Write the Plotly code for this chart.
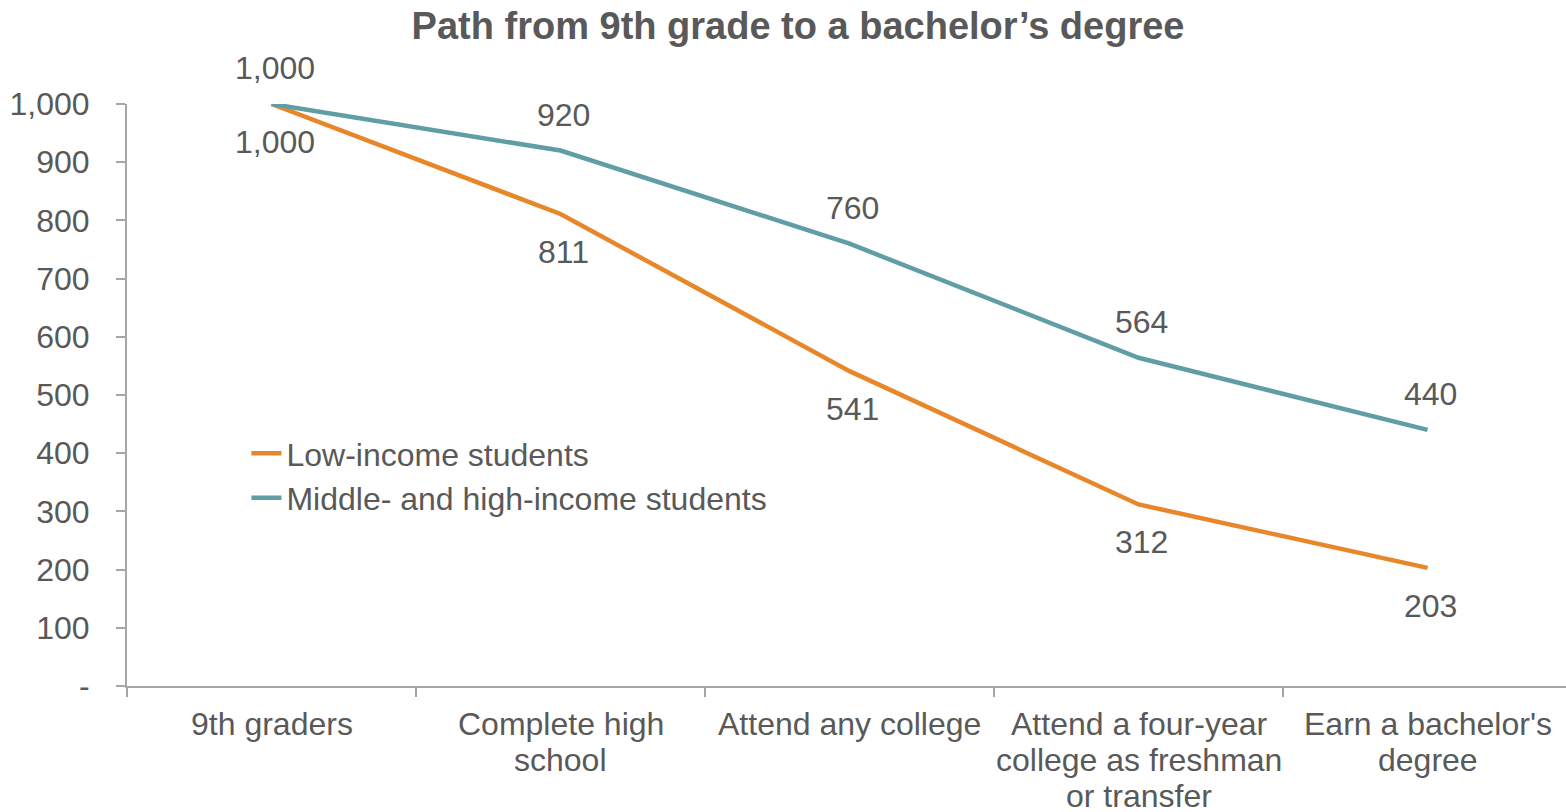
import plotly.graph_objects as go

categories = ["9th graders", "Complete high<br>school", "Attend any college",
              "Attend a four-year<br>college as freshman<br>or transfer",
              "Earn a bachelor's<br>degree"]
low_income = [1000, 811, 541, 312, 203]
mid_high_income = [1000, 920, 760, 564, 440]
y_ticks = [0, 100, 200, 300, 400, 500, 600, 700, 800, 900, 1000]
y_tick_text = ["-", "100", "200", "300", "400", "500", "600", "700", "800", "900", "1,000"]

ORANGE = "#E8872A"
TEAL = "#5F9EA5"
TXT = "#595959"
AX = "#A6A6A6"
FONT = "Liberation Sans, Arial, sans-serif"
FS = 32

x_idx = list(range(len(categories)))

fig = go.Figure()
fig.add_trace(go.Scatter(x=x_idx, y=low_income, mode="lines", name="Low-income students",
                         line=dict(color=ORANGE, width=4.5)))
fig.add_trace(go.Scatter(x=x_idx, y=mid_high_income, mode="lines", name="Middle- and high-income students",
                         line=dict(color=TEAL, width=4.5)))

def fmt(v):
    return f"{v:,}"

for i, v in enumerate(mid_high_income):
    fig.add_annotation(x=x_idx[i], y=v, text=fmt(v), showarrow=False, yshift=36, xshift=3,
                       font=dict(size=FS, color=TXT, family=FONT))
for i, v in enumerate(low_income):
    fig.add_annotation(x=x_idx[i], y=v, text=fmt(v), showarrow=False, yshift=-38, xshift=3,
                       font=dict(size=FS, color=TXT, family=FONT))

# category labels (one annotation per line for tighter line spacing)
for i, cat in enumerate(categories):
    for k, line in enumerate(cat.split("<br>")):
        fig.add_annotation(x=x_idx[i], xref="x", y=0, yref="paper", yanchor="middle",
                           text=line, showarrow=False, yshift=-(38 + 36 * k),
                           font=dict(size=FS, color=TXT, family=FONT))

fig.update_layout(
    width=1566, height=812,
    margin=dict(l=127, r=0, t=104, b=126, autoexpand=False),
    paper_bgcolor="white", plot_bgcolor="white",
    font=dict(family=FONT, size=FS, color=TXT),
    title=dict(text="<b>Path from 9th grade to a bachelor’s degree</b>", x=0.5096, xanchor="center",
               y=1 - 26 / 812, yanchor="middle", xref="container", yref="container",
               font=dict(size=38, color=TXT, family=FONT)),
    showlegend=True,
    legend=dict(x=0.083, y=0.447, xanchor="left", yanchor="top", bgcolor="rgba(0,0,0,0)",
                font=dict(size=FS, color=TXT, family=FONT), tracegroupgap=0),
    xaxis=dict(
        range=[-0.5, 4.479],
        tickmode="array",
        tickvals=[b - 0.5 for b in range(len(categories) + 1)],
        ticktext=[""] * (len(categories) + 1),
        showgrid=False, zeroline=False, automargin=False,
        showline=True, linecolor=AX, linewidth=2,
        ticks="outside", ticklen=9, tickcolor=AX, tickwidth=2,
    ),
    yaxis=dict(
        range=[0, 1000], tickmode="array", tickvals=y_ticks, ticktext=y_tick_text,
        showgrid=False, zeroline=False, automargin=False,
        showline=True, linecolor=AX, linewidth=2,
        ticks="outside", ticklen=9, tickcolor=AX, tickwidth=2,
        ticklabelstandoff=20,
        tickfont=dict(size=FS, color=TXT),
    ),
)

fig.write_html("out.html", config={"displayModeBar": False},
               post_script="document.body.style.margin='0';")
